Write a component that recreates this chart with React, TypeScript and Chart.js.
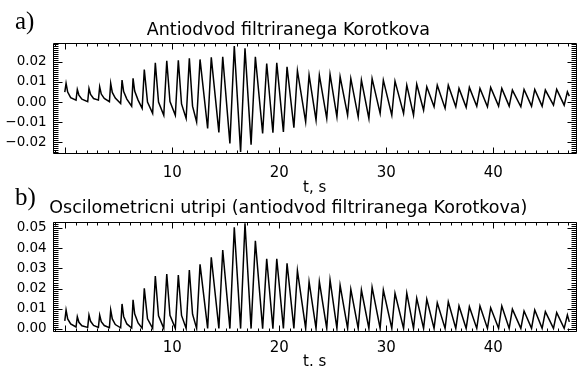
import React, { useEffect, useRef } from "react";
import { Chart, registerables } from "chart.js";

Chart.register(...registerables);

// Sample times (s): trough, peak and knee points of every beat
const tSec = [
  -0.05,
  0.07, 0.22, 0.5, 1.0,
  1.12, 1.27, 1.55, 2.09,
  2.21, 2.36, 2.64, 3.09,
  3.21, 3.36, 3.64, 4.12,
  4.24, 4.39, 4.67, 5.17,
  5.3, 5.45, 5.75, 6.2,
  6.33, 6.48, 6.8, 7.18,
  7.38, 7.68, 8.16,
  8.41, 8.71, 9.2,
  9.48, 9.78, 10.28,
  10.56, 10.86, 11.29,
  11.59, 11.89, 12.27,
  12.59, 13.3,
  13.64, 14.35,
  14.71, 15.38,
  15.79, 16.38,
  16.79, 17.36,
  17.76, 18.44,
  18.82, 19.4,
  19.76, 20.38,
  20.72, 21.36,
  21.69, 22.46,
  22.78, 23.43,
  23.74, 24.43,
  24.74, 25.38,
  25.68, 26.38,
  26.68, 27.37,
  27.67, 28.37,
  28.67, 29.42,
  29.72, 30.51,
  30.81, 31.61,
  31.91, 32.54,
  32.84, 33.48,
  33.78, 34.46,
  34.76, 35.49,
  35.79, 36.49,
  36.79, 37.46,
  37.76, 38.45,
  38.75, 39.45,
  39.75, 40.49,
  40.79, 41.48,
  41.78, 42.57,
  42.87, 43.57,
  43.87, 44.56,
  44.86, 45.62,
  45.92, 46.62,
  46.92, 47.1,
];

// a) filtered Korotkoff anti-lead
const antiodvod = [
  0.005,
  0.0093, 0.005, 0.0022, 0.001,
  0.0063, 0.0035, 0.0015, 0.0002,
  0.0068, 0.0038, 0.0018, 0.001,
  0.0076, 0.004, 0.0018, 0.0002,
  0.0093, 0.0048, 0.002, -0.0007,
  0.0109, 0.0052, 0.0015, -0.002,
  0.0118, 0.0055, 0.001, -0.0031,
  0.0162, 0.0, -0.0056,
  0.0195, 0.0, -0.0065,
  0.0205, 0.0003, -0.0065,
  0.0208, -0.0009, -0.0081,
  0.0217, -0.002, -0.0098,
  0.0212, -0.0131,
  0.0222, -0.015,
  0.0225, -0.0205,
  0.0278, -0.0247,
  0.0267, -0.0211,
  0.0225, -0.0155,
  0.0192, -0.0152,
  0.0195, -0.0148,
  0.0175, -0.0127,
  0.0156, -0.0098,
  0.0134, -0.0089,
  0.0134, -0.0081,
  0.0138, -0.0073,
  0.0126, -0.0065,
  0.0117, -0.0073,
  0.0109, -0.0081,
  0.0117, -0.0056,
  0.0109, -0.0065,
  0.0104, -0.0056,
  0.0084, -0.0065,
  0.0089, -0.004,
  0.0076, -0.0023,
  0.0084, -0.0031,
  0.0084, -0.0023,
  0.0068, -0.0026,
  0.0073, -0.002,
  0.0068, -0.0023,
  0.0073, -0.002,
  0.0068, -0.002,
  0.006, -0.0023,
  0.0063, -0.002,
  0.0063, -0.002,
  0.006, -0.0015,
  0.0063, -0.0015,
  0.0051, 0.003,
];

// b) oscillometric beats
const utripi = [
  0.004,
  0.0094, 0.005, 0.0025, 0.0010,
  0.0061, 0.0033, 0.0016, 0.0008,
  0.0069, 0.0038, 0.0018, 0.0008,
  0.0069, 0.0036, 0.0017, 0.0007,
  0.0094, 0.005, 0.0022, 0.0006,
  0.0124, 0.0062, 0.0025, 0.0005,
  0.0144, 0.0075, 0.003, 0.0004,
  0.0201, 0.005, 0.0003,
  0.0262, 0.0065, 0.0003,
  0.0272, 0.0068, 0.0003,
  0.0267, 0.0067, 0.0003,
  0.0292, 0.0073, 0.0003,
  0.032, 0.0003,
  0.0355, 0.0003,
  0.0391, 0.0002,
  0.0503, 0.0002,
  0.0523, 0.0002,
  0.0436, 0.0002,
  0.0347, 0.0002,
  0.0347, 0.0003,
  0.0325, 0.0003,
  0.0289, 0.0003,
  0.0234, 0.0003,
  0.0234, 0.0003,
  0.0243, 0.0003,
  0.0216, 0.0003,
  0.0196, 0.0003,
  0.0193, 0.0003,
  0.0206, 0.0003,
  0.0193, 0.0003,
  0.0177, 0.0003,
  0.0177, 0.0003,
  0.0152, 0.0003,
  0.0147, 0.0003,
  0.013, 0.0003,
  0.0135, 0.0003,
  0.0114, 0.0003,
  0.011, 0.0003,
  0.0114, 0.0003,
  0.0105, 0.0003,
  0.0114, 0.0003,
  0.0098, 0.0003,
  0.0089, 0.0003,
  0.0094, 0.0003,
  0.0086, 0.0003,
  0.0081, 0.0003,
  0.0069, 0.0035,
];

const xMajorTicks = [10, 20, 30, 40];
const yTicksA = [-0.02, -0.01, 0, 0.01, 0.02];
const yTicksB = [0, 0.01, 0.02, 0.03, 0.04, 0.05];

const SANS = '"DejaVu Sans", sans-serif';

// Box frame with inward ticks on all four sides plus the panel letter
const framePlugin = {
  id: "idlFrame",
  afterDraw(chart: any, _args: any, opts: any) {
    const { ctx, chartArea: a } = chart;
    const x = chart.scales.x;
    const y = chart.scales.y;
    ctx.save();
    ctx.strokeStyle = "#000";
    ctx.lineWidth = 1;
    const L = Math.round(a.left) + 0.5;
    const R = Math.round(a.right) - 0.5;
    const T = Math.round(a.top) + 0.5;
    const B = Math.round(a.bottom) - 0.5;
    ctx.beginPath();
    ctx.rect(L, T, R - L, B - T);
    // x ticks, one per second
    for (let v = Math.ceil(x.min); v <= x.max; v += 1) {
      const px = Math.round(x.getPixelForValue(v)) + 0.5;
      const len = v % 10 === 0 ? 6 : 3;
      ctx.moveTo(px, B);
      ctx.lineTo(px, B - len);
      ctx.moveTo(px, T);
      ctx.lineTo(px, T + len);
    }
    // y ticks
    const step = opts.yMinorStep;
    const i0 = Math.ceil(y.min / step - 1e-9);
    const i1 = Math.floor(y.max / step + 1e-9);
    for (let i = i0; i <= i1; i++) {
      const py = Math.round(y.getPixelForValue(i * step)) + 0.5;
      const len = i % opts.yMajorEvery === 0 ? 9 : 5;
      ctx.moveTo(L, py);
      ctx.lineTo(L + len, py);
      ctx.moveTo(R, py);
      ctx.lineTo(R - len, py);
    }
    ctx.stroke();
    ctx.fillStyle = "#000";
    ctx.font = '25px "Liberation Serif", serif';
    ctx.textAlign = "left";
    ctx.textBaseline = "alphabetic";
    ctx.fillText(opts.letter, 15, opts.letterBaseline);
    ctx.restore();
  },
};

type PanelProps = {
  top: number;
  height: number;
  values: number[];
  title: string;
  xTitle: string;
  yMin: number;
  yMax: number;
  yTicks: number[];
  letter: string;
  letterBaseline: number;
  titlePad: { top: number; bottom: number };
  xAxisHeight: number;
  xTickPad: number;
  xTitlePad: number;
};

function Panel(p: PanelProps) {
  const ref = useRef<HTMLCanvasElement>(null);
  useEffect(() => {
    const points = tSec.map((t, i) => ({ x: t, y: p.values[i] }));
    const chart = new Chart(ref.current as HTMLCanvasElement, {
      type: "line",
      data: {
        datasets: [
          {
            data: points,
            borderColor: "#000",
            borderWidth: 1.5,
            pointRadius: 0,
            tension: 0,
            fill: false,
          },
        ],
      },
      plugins: [framePlugin],
      options: {
        animation: false,
        responsive: false,
        devicePixelRatio: 1,
        events: [],
        layout: { padding: { left: 0, right: 7.3, top: 0, bottom: 0 } },
        plugins: {
          legend: { display: false },
          tooltip: { enabled: false },
          title: {
            display: true,
            text: p.title,
            color: "#000",
            font: { family: SANS, size: 17.5, weight: "normal" },
            padding: p.titlePad,
          },
          idlFrame: {
            letter: p.letter,
            letterBaseline: p.letterBaseline,
            yMinorStep: 0.001,
            yMajorEvery: 10,
          },
        } as any,
        scales: {
          x: {
            type: "linear",
            min: -1.18,
            max: 47.79,
            grid: { display: false, drawTicks: false },
            border: { display: false },
            afterFit: (s: any) => {
              s.height = p.xAxisHeight;
            },
            afterBuildTicks: (s: any) => {
              s.ticks = xMajorTicks.map((v) => ({ value: v }));
            },
            ticks: {
              color: "#000",
              font: { family: SANS, size: 15 },
              padding: p.xTickPad,
              maxRotation: 0,
              autoSkip: false,
              callback: (v: any) => String(v),
            },
            title: {
              display: true,
              text: p.xTitle,
              color: "#000",
              font: { family: SANS, size: 15 },
              padding: { top: 0, bottom: p.xTitlePad },
            },
          },
          y: {
            type: "linear",
            min: p.yMin,
            max: p.yMax,
            grid: { display: false, drawTicks: false },
            border: { display: false },
            afterFit: (s: any) => {
              s.width = 52.7;
            },
            afterBuildTicks: (s: any) => {
              s.ticks = p.yTicks.map((v) => ({ value: v }));
            },
            ticks: {
              color: "#000",
              font: { family: SANS, size: 13.5 },
              padding: 6,
              autoSkip: false,
              callback: (v: any) => {
                const n = Number(v);
                return (n < -1e-9 ? "\u2212" : "") + Math.abs(n).toFixed(2);
              },
            },
          },
        },
      } as any,
    });
    return () => chart.destroy();
  }, []);
  return (
    <canvas
      ref={ref}
      width={584}
      height={p.height}
      style={{ position: "absolute", left: 0, top: p.top, width: 584, height: p.height }}
    />
  );
}

export default function App() {
  return (
    <div
      style={{
        position: "fixed",
        left: 0,
        top: 0,
        width: 584,
        height: 371,
        background: "#fff",
        overflow: "hidden",
      }}
    >
      <Panel
        top={0}
        height={200}
        values={antiodvod}
        title="Antiodvod filtriranega Korotkova"
        xTitle="t, s"
        yMin={-0.0259}
        yMax={0.0292}
        yTicks={yTicksA}
        letter="a)"
        letterBaseline={29}
        titlePad={{ top: 19.9, bottom: 2.4 }}
        xAxisHeight={45.7}
        xTickPad={9.6}
        xTitlePad={3.1}
      />
      <Panel
        top={178}
        height={193}
        values={utripi}
        title="Oscilometricni utripi (antiodvod filtriranega Korotkova)"
        xTitle="t. s"
        yMin={-0.00134}
        yMax={0.0531}
        yTicks={yTicksB}
        letter="b)"
        letterBaseline={27}
        titlePad={{ top: 20.2, bottom: 2.5 }}
        xAxisHeight={39.3}
        xTickPad={7.2}
        xTitlePad={-0.6}
      />
    </div>
  );
}
